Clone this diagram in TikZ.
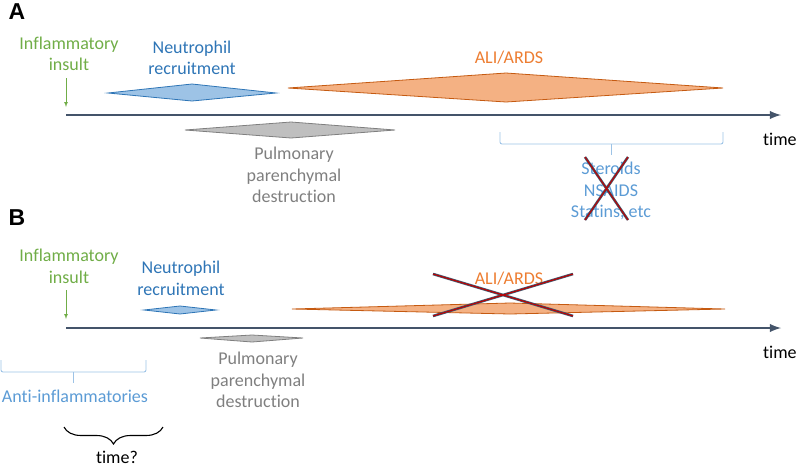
\documentclass[tikz,border=0pt]{standalone}
\usepackage{fontspec}
\setmainfont{Carlito}[Ligatures=NoCommon]
\newfontfamily\panelfont{Liberation Sans}
\usetikzlibrary{decorations.pathreplacing}
\definecolor{insultgreen}{HTML}{70AD47}
\definecolor{neutroblue}{HTML}{2E75B6}
\definecolor{neutrofill}{HTML}{9DC3E6}
\definecolor{aliorange}{HTML}{ED7D31}
\definecolor{aliedge}{HTML}{C55A11}
\definecolor{alifill}{HTML}{F4B183}
\definecolor{destrgray}{HTML}{7F7F7F}
\definecolor{destrfill}{HTML}{BFBFBF}
\definecolor{drugblue}{HTML}{5B9BD5}
\definecolor{axisslate}{HTML}{44546A}
\definecolor{crossred}{HTML}{C00000}
\tikzset{ t/.style = { rectangle % text label
        , align = center
        , inner sep = 0pt
        , font = \fontsize{18}{21.5}\selectfont
        }
        , p/.style = { rectangle % panel letter
        , inner sep = 0pt
        , font = \panelfont\bfseries\fontsize{23}{23}\selectfont
        }
        }

\begin{document}
\begin{tikzpicture}[x=1pt, y=-1pt,
        axis_style/.style={draw=axisslate, line width=2.8pt, -latex},
        insult_style/.style={draw=insultgreen, line width=0.7pt, -latex},
        neutro_style/.style={draw=neutroblue, fill=neutrofill, line width=0.8pt},
        ali_style/.style={draw=aliedge, fill=alifill, line width=0.8pt},
        destr_style/.style={draw=destrgray, fill=destrfill, line width=0.8pt},
        bracket_style/.style={draw=neutrofill, line width=0.9pt, rounded corners=2pt},
        cross_under/.style={draw=axisslate, line width=2.6pt},
        cross_over/.style={draw=crossred, line width=1pt}]
        \useasboundingbox (0,0) rectangle (800,467);

        % panel A
        \node [p] (pA) at (17,12) {A};
        \node [t,text=insultgreen] (insA) at (69,54) {Inflammatory\\insult};
        \node [t,text=neutroblue] (neuA) at (192,58) {Neutrophil\\recruitment};
        \node [t,text=aliorange] (aliA) at (509,58) {ALI/ARDS};
        \node [t,text=destrgray] (desA) at (294,175) {Pulmonary\\parenchymal\\destruction};
        \node [t,text=drugblue] (drugA) at (611,191) {Steroids\\NSAIDS\\Statins, etc};
        \node [t,anchor=west] (timeA) at (763,139) {time};
        \coordinate (axA0) at (66,115);
        \coordinate (axA1) at (781,115);
        \coordinate (insA0) at (66,78);
        \coordinate (insA1) at (66,107);
        \draw [insult_style] (insA0) -- (insA1);
        \draw [axis_style] (axA0) -- (axA1);
        \draw [neutro_style] (108,93) -- (192,84) -- (276,93) -- (192,101) -- cycle;
        \draw [ali_style] (288,88) -- (506,73) -- (723,88) -- (506,102) -- cycle;
        \draw [destr_style] (185,130) -- (291,122) -- (395,130) -- (291,138) -- cycle;
        \coordinate (brA) at (611,155);
        \draw [bracket_style] (500,132) |- (611,144) -| (723,132);
        \draw [bracket_style] (611,144) -- (brA);
        \draw [cross_under] (585,157) -- (628,220) (628,157) -- (585,220);
        \draw [cross_over] (585,157) -- (628,220) (628,157) -- (585,220);

        % panel B
        \node [p] (pB) at (17,218) {B};
        \node [t,text=insultgreen] (insB) at (69,266.5) {Inflammatory\\insult};
        \node [t,text=neutroblue] (neuB) at (181,278.5) {Neutrophil\\recruitment};
        \node [t,text=aliorange] (aliB) at (509,279) {ALI/ARDS};
        \node [t,text=destrgray] (desB) at (258,380) {Pulmonary\\parenchymal\\destruction};
        \node [t,text=drugblue] (drugB) at (75,396) {Anti-inflammatories};
        \node [t,anchor=west] (timeB) at (763,352) {time};
        \node [t] (askB) at (117,457) {time?};
        \coordinate (axB0) at (66,328);
        \coordinate (axB1) at (781,328);
        \coordinate (insB0) at (66,290);
        \coordinate (insB1) at (66,319);
        \draw [insult_style] (insB0) -- (insB1);
        \draw [axis_style] (axB0) -- (axB1);
        \draw [neutro_style] (144,310) -- (180,306) -- (216,310) -- (180,314) -- cycle;
        \draw [ali_style] (292,309) -- (510,303) -- (725,309) -- (510,314) -- cycle;
        \draw [destr_style] (200,338) -- (252,335) -- (303,338) -- (252,342) -- cycle;
        \draw [cross_under] (433,274) -- (573,316) (433,316) -- (573,274);
        \draw [cross_over] (433,274) -- (573,316) (433,316) -- (573,274);
        \coordinate (brB) at (73,383);
        \draw [bracket_style] (1,360) |- (73,372) -| (146,360);
        \draw [bracket_style] (73,372) -- (brB);
        \draw [decorate, decoration={brace, mirror, amplitude=17pt}, line width=1.1pt]
                (64,427) -- (163,427);
\end{tikzpicture}
\end{document}
